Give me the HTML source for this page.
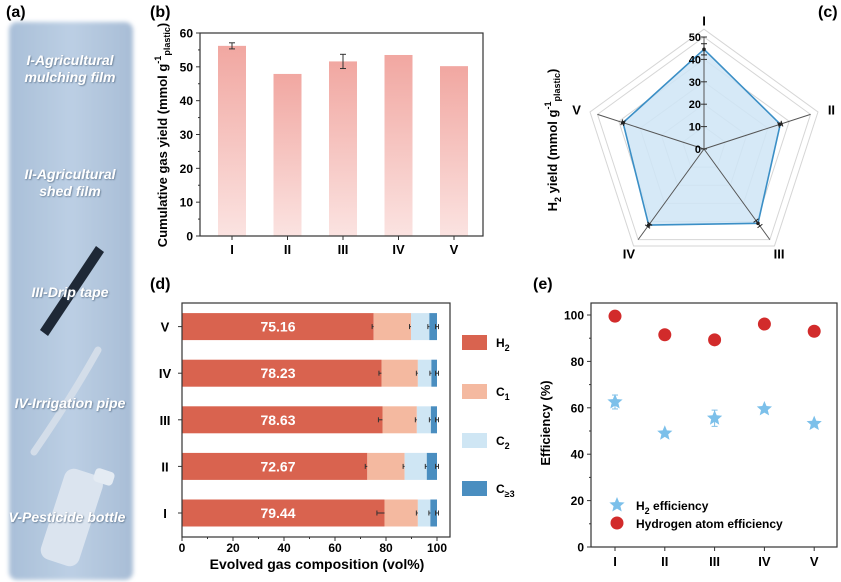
<!DOCTYPE html>
<html><head><meta charset="utf-8"><style>
html,body{margin:0;padding:0;background:#fff;}
svg{display:block;font-family:"Liberation Sans",Arial,sans-serif;}
</style></head><body>
<svg id="fig" width="841" height="582" viewBox="0 0 841 582" xmlns="http://www.w3.org/2000/svg">
<defs>
<linearGradient id="barGrad" x1="0" y1="0" x2="0" y2="1">
<stop offset="0" stop-color="#f1a7a1"/><stop offset="1" stop-color="#fbe3e1"/></linearGradient>
<linearGradient id="colGrad" x1="0" y1="0" x2="1" y2="0">
<stop offset="0" stop-color="#a9bfd8"/><stop offset="0.5" stop-color="#bccfe4"/><stop offset="1" stop-color="#a8bdd6"/></linearGradient>
<filter id="blur"><feGaussianBlur stdDeviation="2"/></filter>
<filter id="tshadow" x="-10%" y="-30%" width="120%" height="160%"><feDropShadow dx="0.8" dy="0.8" stdDeviation="0.8" flood-color="#5a6f88" flood-opacity="0.9"/></filter>
</defs>

<!-- Panel a -->
<g>
<text x="6" y="17" font-size="16" font-weight="bold">(a)</text>
<rect x="9" y="22" width="124" height="558" rx="8" fill="url(#colGrad)" filter="url(#blur)"/>
<polygon points="40,330 48,336 104,252 96,246" fill="#1e2836"/>
<path d="M34,452 Q70,400 98,350" stroke="#d3dde9" stroke-width="7" fill="none" stroke-linecap="round"/>
<g>
<rect x="52" y="470" width="40" height="95" rx="10" fill="#dbe4ef" transform="rotate(18 72 517)"/>
<rect x="80" y="462" width="20" height="14" rx="4" fill="#e4ebf3" transform="rotate(18 72 517)"/>
</g>
<g font-size="14" font-style="italic" font-weight="bold" fill="#ffffff" text-anchor="middle" filter="url(#tshadow)">
<text x="70" y="65">I-Agricultural</text>
<text x="70" y="82">mulching film</text>
<text x="70" y="179">II-Agricultural</text>
<text x="70" y="196">shed film</text>
<text x="70" y="297">III-Drip tape</text>
<text x="70" y="408">IV-Irrigation pipe</text>
<text x="67" y="522">V-Pesticide bottle</text>
</g>
</g>

<g id="pb">
<text x="150" y="17" font-size="16" font-weight="bold">(b)</text>
</g>
<g id="pc">
<text x="818" y="17" font-size="16" font-weight="bold">(c)</text>
</g>
<g id="pd">
<text x="150" y="289" font-size="16" font-weight="bold">(d)</text>
</g>
<g id="pe">
<text x="533" y="289" font-size="16" font-weight="bold">(e)</text>
</g>
</svg>
<script>
const NS="http://www.w3.org/2000/svg";
function mk(parent,tag,attrs,text){const e=document.createElementNS(NS,tag);for(const k in attrs)e.setAttribute(k,attrs[k]);if(text!==undefined)e.textContent=text;parent.appendChild(e);return e;}

// ---------- data ----------
const categories=["I","II","III","IV","V"];
// (b)
const gasYield=[56.2,47.9,51.6,53.5,50.2];
const gasYieldErr=[0.9,0,2.1,0,0];
const yTicksB=[0,10,20,30,40,50,60];
// (c)
const h2Yield=[44.5,35.8,41,42,38];
const h2YieldErr=[2.5,0.8,1.5,0.8,0.6];
const rTicksC=[0,10,20,30,40,50];
// (d)
const h2Pct=[79.44,72.67,78.63,78.23,75.16];
const c1Pct=[13.06,14.63,13.47,14.27,14.64];
const c2Pct=[4.9,8.7,5.5,5.3,7.2];
const c3Pct=[2.6,4.0,2.4,2.2,3.0];
const h2Err=[3.0,0.8,1.6,1.0,0.6];
const xTicksD=[0,20,40,60,80,100];
// (e)
const h2Eff=[62.5,49,55.5,59.5,53.2];
const h2EffErr=[3,0.5,3.5,0.5,0.5];
const hAtomEff=[99.5,91.5,89.3,96.1,93];
const yTicksE=[0,20,40,60,80,100];

// ---------- panel b ----------
const pb=document.getElementById('pb');
const bL=200,bR=483,bT=33,bB=236;
const yB=v=>bB-(v/60)*(bB-bT);
const xB=i=>232+i*55.5;
categories.forEach((c,i)=>{
  const r=mk(pb,'rect',{x:xB(i)-14,y:yB(gasYield[i]),width:28,height:bB-yB(gasYield[i]),fill:'url(#barGrad)'});
  
  
  if(gasYieldErr[i]>0){
    const g=mk(pb,'g',{stroke:'#333','stroke-width':1});
    
    
    const y1=yB(gasYield[i]+gasYieldErr[i]),y2=yB(gasYield[i]-gasYieldErr[i]);
    mk(g,'line',{x1:xB(i),x2:xB(i),y1:y1,y2:y2});
    mk(g,'line',{x1:xB(i)-3,x2:xB(i)+3,y1:y1,y2:y1});
    mk(g,'line',{x1:xB(i)-3,x2:xB(i)+3,y1:y2,y2:y2});
  }
  const t=mk(pb,'text',{x:xB(i),y:254,'font-size':13,'font-weight':'bold','text-anchor':'middle'},c);
  
  
  mk(pb,'line',{x1:xB(i),x2:xB(i),y1:bB,y2:bB+4,stroke:'#333'});
});
const fb=mk(pb,'rect',{x:bL,y:bT,width:bR-bL,height:bB-bT,fill:'none',stroke:'#333','stroke-width':1.2});


yTicksB.forEach(v=>{
  mk(pb,'line',{x1:bL-4,x2:bL,y1:yB(v),y2:yB(v),stroke:'#333'});
  if(v<60)mk(pb,'line',{x1:bL-2,x2:bL,y1:yB(v+5),y2:yB(v+5),stroke:'#333'});
  const t=mk(pb,'text',{x:bL-7,y:yB(v)+4.5,'font-size':12,'font-weight':'bold','text-anchor':'end'},v);
  
  
});
const ytb=mk(pb,'text',{transform:'translate(167,135) rotate(-90)','font-size':13,'font-weight':'bold','text-anchor':'middle'});


ytb.innerHTML='Cumulative gas yield (mmol g<tspan dy="-6" font-size="9">-1</tspan><tspan dy="9" font-size="9">plastic</tspan><tspan dy="-3">)</tspan>';

// ---------- panel c ----------
const pc=document.getElementById('pc');
const cx=704,cy=149,R=112;
const ang=i=>(-90+72*i)*Math.PI/180;
const pt=(v,i)=>[cx+(v/50)*R*Math.cos(ang(i)),cy+(v/50)*R*Math.sin(ang(i))];
[10,20,30,40,50,53.5].forEach(v=>{
  const p=categories.map((c,i)=>pt(v,i).join(',')).join(' ');
  const g=mk(pc,'polygon',{points:p,fill:'none',stroke:'#d6d6d6','stroke-width':1});
  
  
});
const poly=mk(pc,'polygon',{points:categories.map((c,i)=>pt(h2Yield[i],i).join(',')).join(' '),fill:'#cfe5f6','fill-opacity':0.85,stroke:'#3b8fc6','stroke-width':1.6});


const labOff=[[0,4],[6,5],[0,6],[0,6],[-6,5]];
categories.forEach((c,i)=>{
  const e=pt(50,i);
  mk(pc,'line',{x1:cx,y1:cy,x2:e[0],y2:e[1],stroke:'#555','stroke-width':1});
  const p1=pt(h2Yield[i]-h2YieldErr[i],i),p2=pt(h2Yield[i]+h2YieldErr[i],i);
  const pa=ang(i)+Math.PI/2,dx=3*Math.cos(pa),dy=3*Math.sin(pa);
  const g=mk(pc,'g',{stroke:'#222','stroke-width':1});
  
  
  mk(g,'line',{x1:p1[0],y1:p1[1],x2:p2[0],y2:p2[1]});
  mk(g,'line',{x1:p1[0]-dx,y1:p1[1]-dy,x2:p1[0]+dx,y2:p1[1]+dy});
  mk(g,'line',{x1:p2[0]-dx,y1:p2[1]-dy,x2:p2[0]+dx,y2:p2[1]+dy});
  const pp=pt(h2Yield[i],i);
  const d=mk(pc,'circle',{cx:pp[0],cy:pp[1],r:1.8,fill:'#222'});
  
  
  const lp=pt(57,i);
  const t=mk(pc,'text',{x:lp[0]+labOff[i][0],y:lp[1]+labOff[i][1],'font-size':13,'font-weight':'bold','text-anchor':'middle'},c);
  
  
});
rTicksC.forEach(v=>{
  const t=mk(pc,'text',{x:cx-3,y:cy-(v/50)*R+4,'font-size':11,'font-weight':'bold','text-anchor':'end'},v);
  
  
  mk(pc,'line',{x1:cx-3,x2:cx+3,y1:cy-(v/50)*R,y2:cy-(v/50)*R,stroke:'#333'});
});
const ytc=mk(pc,'text',{transform:'translate(557,140) rotate(-90)','font-size':13,'font-weight':'bold','text-anchor':'middle'});


ytc.innerHTML='H<tspan dy="4" font-size="9">2</tspan><tspan dy="-4"> yield (mmol g</tspan><tspan dy="-6" font-size="9">-1</tspan><tspan dy="9" font-size="9">plastic</tspan><tspan dy="-3">)</tspan>';

// ---------- panel d ----------
const pd=document.getElementById('pd');
const dL=182,dR=450,dT=303,dB=537;
const xD=v=>dL+v*2.55;
const yD=i=>513-i*46.6;
const segColors=['#d9634f','#f4b9a0','#cfe6f4','#4a8ec0'];
const segNames=['h2','c1','c2','c3'];
const segData=[h2Pct,c1Pct,c2Pct,c3Pct];
categories.forEach((c,i)=>{
  let acc=0;
  segData.forEach((arr,s)=>{
    const r=mk(pd,'rect',{x:xD(acc),y:yD(i)-13.5,width:xD(acc+arr[i])-xD(acc),height:27,fill:segColors[s]});
    
    
    acc+=arr[i];
    const ex=xD(acc),ew=s===0?h2Err[i]*2.55:1.5;
    mk(pd,'line',{x1:ex-ew,x2:ex+ew,y1:yD(i),y2:yD(i),stroke:'#333'});
    mk(pd,'line',{x1:ex-ew,x2:ex-ew,y1:yD(i)-2.5,y2:yD(i)+2.5,stroke:'#333'});
    mk(pd,'line',{x1:ex+ew,x2:ex+ew,y1:yD(i)-2.5,y2:yD(i)+2.5,stroke:'#333'});
  });
  const v=mk(pd,'text',{x:278,y:yD(i)+5,'font-size':14,'font-weight':'bold',fill:'#fff','text-anchor':'middle'},h2Pct[i].toFixed(2));
  
  
  const t=mk(pd,'text',{x:165,y:yD(i)+5,'font-size':13,'font-weight':'bold','text-anchor':'middle'},c);
  
  
  mk(pd,'line',{x1:dL-4,x2:dL,y1:yD(i),y2:yD(i),stroke:'#333'});
});
const fd=mk(pd,'rect',{x:dL,y:dT,width:dR-dL,height:dB-dT,fill:'none',stroke:'#333','stroke-width':1.2});


xTicksD.forEach(v=>{
  mk(pd,'line',{x1:xD(v),x2:xD(v),y1:dB,y2:dB+4,stroke:'#333'});
  if(v<100)mk(pd,'line',{x1:xD(v+10),x2:xD(v+10),y1:dB,y2:dB+2,stroke:'#333'});
  const t=mk(pd,'text',{x:xD(v),y:552,'font-size':12,'font-weight':'bold','text-anchor':'middle'},v);
  
  
});
const xtd=mk(pd,'text',{x:317,y:569,'font-size':14,'font-weight':'bold','text-anchor':'middle'},'Evolved gas composition (vol%)');


const legY=[342,391,440,488];
const legLabels=['H<tspan dy="4" font-size="9">2</tspan>','C<tspan dy="4" font-size="9">1</tspan>','C<tspan dy="4" font-size="9">2</tspan>','C<tspan dy="4" font-size="9">≥3</tspan>'];
segNames.forEach((n,s)=>{
  const r=mk(pd,'rect',{x:462,y:legY[s]-7,width:25,height:15,fill:segColors[s]});
  
  
  const t=mk(pd,'text',{x:496,y:legY[s]+5,'font-size':12,'font-weight':'bold'});
  t.innerHTML=legLabels[s];
  
  
});

// ---------- panel e ----------
const pe=document.getElementById('pe');
const eL=591,eR=837,eT=303,eB=547;
const yE=v=>eB-v*2.32;
const xE=i=>615+i*49.8;
function star(x,y,r){let p=[];for(let k=0;k<10;k++){const a=-Math.PI/2+k*Math.PI/5,rr=k%2?r*0.45:r;p.push((x+rr*Math.cos(a)).toFixed(1)+','+(y+rr*Math.sin(a)).toFixed(1));}return p.join(' ');}
categories.forEach((c,i)=>{
  if(h2EffErr[i]>0.6){
    const g=mk(pe,'g',{stroke:'#7fbfe6','stroke-width':1});
    
    
    const y1=yE(h2Eff[i]+h2EffErr[i]),y2=yE(h2Eff[i]-h2EffErr[i]);
    mk(g,'line',{x1:xE(i),x2:xE(i),y1:y1,y2:y2});
    mk(g,'line',{x1:xE(i)-3,x2:xE(i)+3,y1:y1,y2:y1});
    mk(g,'line',{x1:xE(i)-3,x2:xE(i)+3,y1:y2,y2:y2});
  }
  const s=mk(pe,'polygon',{points:star(xE(i),yE(h2Eff[i]),8),fill:'#7cc0ea'});
  
  
  const d=mk(pe,'circle',{cx:xE(i),cy:yE(hAtomEff[i]),r:6.5,fill:'#d22b2b'});
  
  
  mk(pe,'line',{x1:xE(i),x2:xE(i),y1:eB,y2:eB+4,stroke:'#333'});
  const t=mk(pe,'text',{x:xE(i),y:566,'font-size':13,'font-weight':'bold','text-anchor':'middle'},c);
  
  
});
const fe=mk(pe,'rect',{x:eL,y:eT,width:eR-eL,height:eB-eT,fill:'none',stroke:'#333','stroke-width':1.2});


yTicksE.forEach(v=>{
  mk(pe,'line',{x1:eL-4,x2:eL,y1:yE(v),y2:yE(v),stroke:'#333'});
  if(v<100)mk(pe,'line',{x1:eL-2,x2:eL,y1:yE(v+10),y2:yE(v+10),stroke:'#333'});
  const t=mk(pe,'text',{x:eL-7,y:yE(v)+4.5,'font-size':12,'font-weight':'bold','text-anchor':'end'},v);
  
  
});
const yte=mk(pe,'text',{transform:'translate(550,423) rotate(-90)','font-size':13,'font-weight':'bold','text-anchor':'middle'},'Efficiency (%)');


const ls=mk(pe,'polygon',{points:star(617,505,8),fill:'#7cc0ea'});


const lt1=mk(pe,'text',{x:636,y:510,'font-size':12,'font-weight':'bold'});
lt1.innerHTML='H<tspan dy="4" font-size="9">2</tspan><tspan dy="-4"> efficiency</tspan>';


const lc=mk(pe,'circle',{cx:617,cy:523,r:6.5,fill:'#d22b2b'});


const lt2=mk(pe,'text',{x:636,y:528,'font-size':12,'font-weight':'bold'},'Hydrogen atom efficiency');


</script>
</body></html>
